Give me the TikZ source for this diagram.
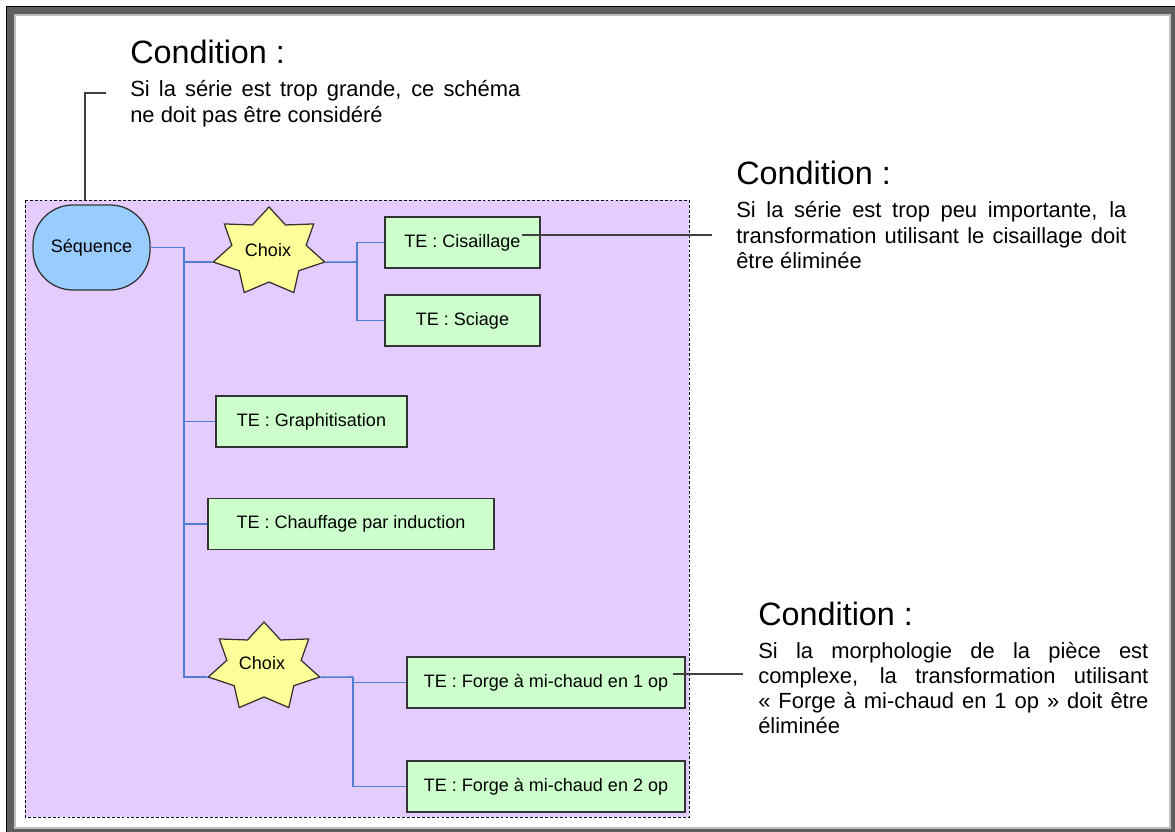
\documentclass[tikz,border=0pt]{standalone}
\usepackage{fontspec}
\setmainfont{Liberation Sans}
\usetikzlibrary{shapes.geometric}
\definecolor{seqblue}{HTML}{99CCFF}
\definecolor{tegreen}{HTML}{CCFFCC}
\definecolor{choixyellow}{HTML}{FFFF99}
\definecolor{zonelilac}{HTML}{E5CCFF}
\definecolor{linkblue}{RGB}{80,125,210}
\definecolor{framedark}{HTML}{5F5F5F}
\definecolor{framelight}{HTML}{C0C0C0}
\tikzstyle{boxfont}=[font=\fontsize{12.8pt}{15pt}\selectfont]
\tikzstyle{tebox}=[boxfont, draw=black!80, fill=tegreen, line width=0.9pt, minimum height=1.275cm, inner sep=0pt]
\tikzstyle{seqbox}=[boxfont, draw=black!80, fill=seqblue, line width=0.9pt, rounded corners=1cm, minimum width=2.925cm, minimum height=2.125cm]
\tikzstyle{choix}=[draw=black!80, fill=choixyellow, line width=0.9pt, star, star points=7, star point ratio=1.5, minimum size=2.25cm, inner sep=0pt]
\tikzstyle{link}=[linkblue, line width=1.1pt]
\tikzstyle{callout}=[black!75, line width=0.8pt]
\tikzstyle{condtitle}=[anchor=base west, inner sep=0pt, font=\fontsize{23pt}{27pt}\selectfont]
\tikzstyle{condtext}=[anchor=base west, inner sep=0pt, font=\fontsize{15.6pt}{17.8pt}\selectfont]

\begin{document}
\begin{tikzpicture}[x=0.025cm, y=-0.025cm]
    \useasboundingbox (0,0) rectangle (1175,832);
    % window frame
    \fill[framedark] (6,6) rectangle (1175,832);
    \draw[black, line width=0.8pt] (6.5,832) -- (6.5,6.5) -- (1175,6.5);
    \fill[framelight] (13.5,14) rectangle (1171,829);
    \fill[white] (15.5,16) rectangle (1169,827);
    % dashed zone
    \draw[fill=zonelilac, dashed, dash pattern=on 2pt off 1.5pt, line width=0.6pt] (25,200) rectangle (689,817);

    \node[seqbox] (seq) at (91.5,247.5) {Séquence};
    \begin{scope}[shift={(269,252)}, xscale=1.27]
        \node[choix, transform shape] (choixA) at (0,0) {};
    \end{scope}
    \node[boxfont] (choixAlbl) at (268,250) {Choix};
    \begin{scope}[shift={(264,667)}, xscale=1.27]
        \node[choix, transform shape] (choixB) at (0,0) {};
    \end{scope}
    \node[boxfont] (choixBlbl) at (262,663) {Choix};

    \node[tebox, minimum width=3.875cm] (cis) at (462.5,242.5) {TE : Cisaillage};
    \node[tebox, minimum width=3.875cm] (sciage) at (462.5,320.5) {TE : Sciage};
    \node[tebox, minimum width=4.775cm] (graph) at (311.5,421.5) {TE : Graphitisation};
    \node[tebox, minimum width=7.15cm] (chauff) at (351,524) {TE : Chauffage par induction};
    \node[tebox, minimum width=6.95cm] (forge1) at (546,682.5) {TE : Forge à mi-chaud en 1 op};
    \node[tebox, minimum width=6.95cm] (forge2) at (546,786.5) {TE : Forge à mi-chaud en 2 op};

    % connectors
    \coordinate (trunk) at (184,247.5);
    \coordinate (forkA) at (357,262);
    \coordinate (forkB) at (353,677);
    \draw[link] (seq.east) -- (trunk) |- (choixB.outer point 3);
    \draw[link] (trunk |- choixA.outer point 3) -- (choixA.outer point 3);
    \draw[link] (trunk |- graph.west) -- (graph.west);
    \draw[link] (trunk |- chauff.west) -- (chauff.west);
    \draw[link] (choixA.outer point 6) -- (forkA);
    \draw[link] (forkA) |- (cis.west);
    \draw[link] (forkA) |- (sciage.west);
    \draw[link] (choixB.outer point 6) -- (forkB);
    \draw[link] (forkB) |- (forge1.west);
    \draw[link] (forkB) |- (forge2.west);

    % conditions
    \node[condtitle] (condA) at (130,64) {Condition :};
    \node[condtext] (condAtext) at (130,97) {\parbox[t]{9.75cm}{Si la série est trop grande, ce schéma \linebreak ne doit pas être considéré}};
    \node[condtitle] (condB) at (736,185) {Condition :};
    \node[condtext] (condBtext) at (736,218) {\parbox[t]{9.75cm}{Si la série est trop peu importante, la \linebreak transformation utilisant le cisaillage doit \linebreak être éliminée}};
    \node[condtitle] (condC) at (758,625) {Condition :};
    \node[condtext] (condCtext) at (758,658) {\parbox[t]{9.75cm}{Si la morphologie de la pièce est \linebreak complexe, la transformation utilisant \linebreak «~Forge à mi-chaud en 1 op~» doit être \linebreak éliminée}};

    \coordinate (tagA) at (85,200);
    \coordinate (tagAend) at (106,93);
    \coordinate (cisEnd) at (522,235);
    \coordinate (tagB) at (712,235);
    \coordinate (forgeEnd) at (673,674);
    \coordinate (tagC) at (743,674);
    \draw[callout] (tagA) |- (tagAend);
    \draw[callout] (cisEnd) -- (tagB);
    \draw[callout] (forgeEnd) -- (tagC);
\end{tikzpicture}
\end{document}
